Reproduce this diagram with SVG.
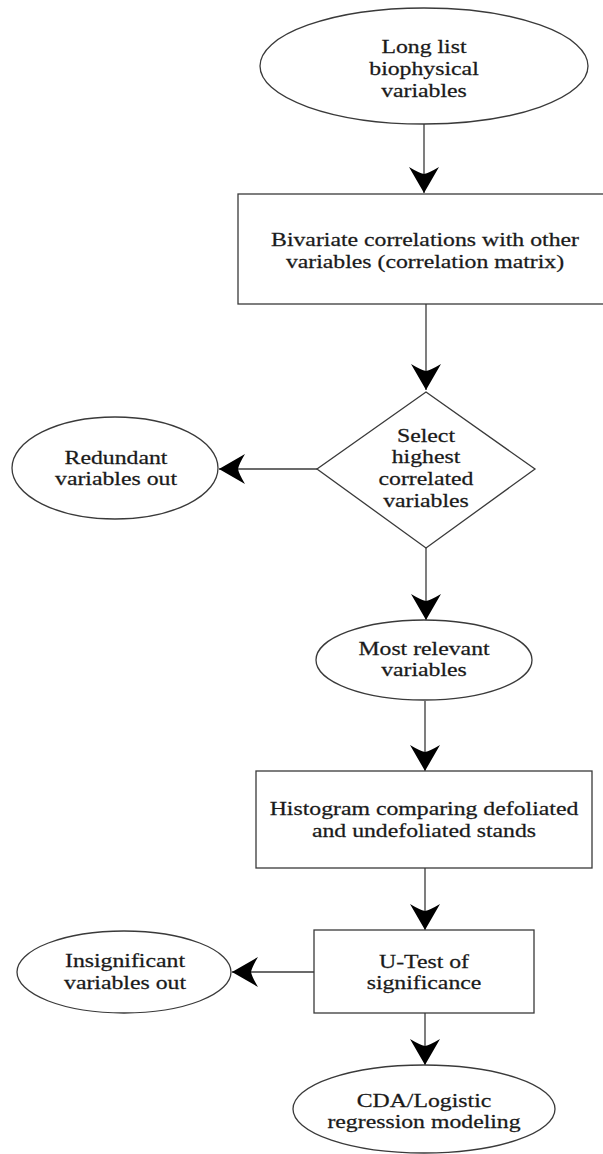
<svg xmlns="http://www.w3.org/2000/svg" width="603" height="1154" viewBox="0 0 603 1154">
<style>
.n{fill:#fff;stroke:#3a3a3a;stroke-width:1.3}
.c{fill:none;stroke:#3a3a3a;stroke-width:1.3}
text{font-family:"Liberation Serif","Times New Roman",serif;font-size:19px;fill:#1a1a1a;stroke:#1a1a1a;stroke-width:0.25;text-anchor:middle}
</style>
<defs>
<marker id="ah" markerUnits="userSpaceOnUse" viewBox="-27 -16 28 32" refX="0" refY="0" markerWidth="28" markerHeight="32" orient="auto">
<path d="M0,0 L-26,-15 Q-20,-5 -19,0 Q-20,5 -26,15 Z" fill="#000"/>
</marker>
</defs>
<rect width="603" height="1154" fill="#fff"/>
<g id="connectors">
<line class="c" x1="424" y1="124" x2="424" y2="193" marker-end="url(#ah)"/>
<line class="c" x1="426" y1="304" x2="426" y2="390" marker-end="url(#ah)"/>
<line class="c" x1="317" y1="469" x2="219" y2="469" marker-end="url(#ah)"/>
<line class="c" x1="426" y1="548" x2="426" y2="620" marker-end="url(#ah)"/>
<line class="c" x1="425" y1="701" x2="425" y2="771" marker-end="url(#ah)"/>
<line class="c" x1="425" y1="868" x2="425" y2="930" marker-end="url(#ah)"/>
<line class="c" x1="314" y1="972" x2="232" y2="972" marker-end="url(#ah)"/>
<line class="c" x1="425" y1="1013" x2="425" y2="1065" marker-end="url(#ah)"/>
</g>
<g id="n1">
<ellipse class="n" cx="424" cy="66" rx="164" ry="58"/>
<text transform="translate(424 0) scale(1.25 1)" x="0" y="53">Long list</text>
<text transform="translate(424 0) scale(1.25 1)" x="0" y="75">biophysical</text>
<text transform="translate(424 0) scale(1.25 1)" x="0" y="97">variables</text>
</g>
<g id="n2">
<rect class="n" x="238" y="194" width="380" height="110"/>
<text transform="translate(425 0) scale(1.25 1)" x="0" y="246">Bivariate correlations with other</text>
<text transform="translate(425 0) scale(1.25 1)" x="0" y="268">variables (correlation matrix)</text>
</g>
<g id="n3">
<polygon class="n" points="426,392 535,469 426,548 317,469"/>
<text transform="translate(426 0) scale(1.25 1)" x="0" y="442">Select</text>
<text transform="translate(426 0) scale(1.25 1)" x="0" y="463">highest</text>
<text transform="translate(426 0) scale(1.25 1)" x="0" y="485">correlated</text>
<text transform="translate(426 0) scale(1.25 1)" x="0" y="507">variables</text>
</g>
<g id="n4">
<ellipse class="n" cx="115" cy="468" rx="103" ry="51"/>
<text transform="translate(116 0) scale(1.25 1)" x="0" y="464">Redundant</text>
<text transform="translate(116 0) scale(1.25 1)" x="0" y="485">variables out</text>
</g>
<g id="n5">
<ellipse class="n" cx="424" cy="660" rx="108" ry="40"/>
<text transform="translate(424 0) scale(1.25 1)" x="0" y="655">Most relevant</text>
<text transform="translate(424 0) scale(1.25 1)" x="0" y="676">variables</text>
</g>
<g id="n6">
<rect class="n" x="256" y="771" width="336" height="97"/>
<text transform="translate(424 0) scale(1.25 1)" x="0" y="815">Histogram comparing defoliated</text>
<text transform="translate(424 0) scale(1.25 1)" x="0" y="837">and undefoliated stands</text>
</g>
<g id="n7">
<rect class="n" x="314" y="930" width="220" height="83"/>
<text transform="translate(424 0) scale(1.25 1)" x="0" y="968">U-Test of</text>
<text transform="translate(424 0) scale(1.25 1)" x="0" y="989">significance</text>
</g>
<g id="n8">
<ellipse class="n" cx="124" cy="972" rx="107" ry="41"/>
<text transform="translate(125 0) scale(1.25 1)" x="0" y="967">Insignificant</text>
<text transform="translate(125 0) scale(1.25 1)" x="0" y="989">variables out</text>
</g>
<g id="n9">
<ellipse class="n" cx="424" cy="1109" rx="131" ry="44"/>
<text transform="translate(424 0) scale(1.25 1)" x="0" y="1107">CDA/Logistic</text>
<text transform="translate(424 0) scale(1.25 1)" x="0" y="1128">regression modeling</text>
</g>
</svg>
